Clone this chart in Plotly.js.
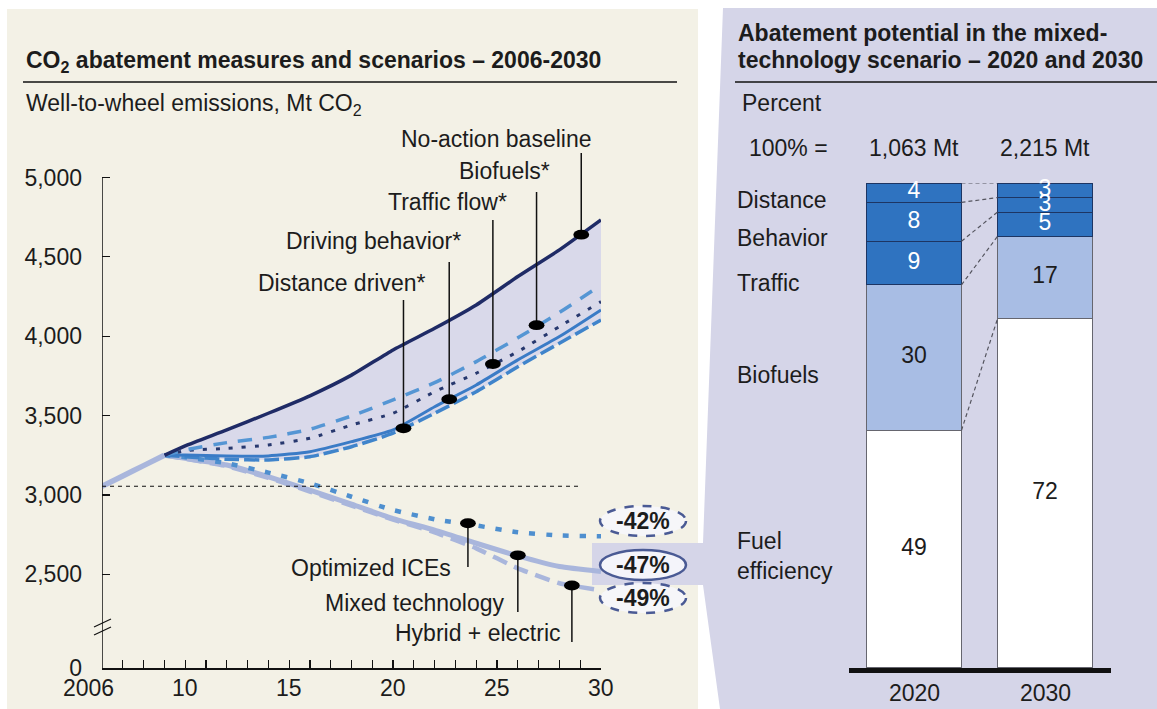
<!DOCTYPE html>
<html>
<head>
<meta charset="utf-8">
<script src="https://cdn.plot.ly/plotly-3.0.1.min.js"></script>
<style>
  html, body { margin: 0; padding: 0; background: #ffffff; }
  #chart { width: 1157px; height: 709px; }
</style>
</head>
<body>
<div id="chart"></div>
<script>
// ---------- Well-to-wheel emissions, Mt CO2 ----------
const histYears  = [2006, 2007, 2008, 2009];
const histValues = [3055, 3120, 3185, 3250];

const scenYears       = [2009, 2010, 2012, 2014, 2016, 2018, 2020, 2022, 2024, 2026, 2028, 2030];
const baseline        = [3250, 3309, 3410, 3515, 3625, 3755, 3914, 4050, 4197, 4376, 4544, 4733];
const biofuels        = [3250, 3284, 3330, 3363, 3414, 3498, 3599, 3708, 3840, 3990, 4150, 4323];
const trafficFlow     = [3250, 3279, 3294, 3315, 3357, 3441, 3515, 3651, 3767, 3903, 4061, 4218];
const drivingBehavior = [3250, 3252, 3246, 3246, 3273, 3336, 3410, 3556, 3693, 3851, 3998, 4166];
const distanceDriven  = [3250, 3241, 3225, 3221, 3241, 3304, 3389, 3515, 3651, 3808, 3956, 4103];
const optimizedICE    = [3250, 3238, 3200, 3141, 3074, 2989, 2905, 2847, 2808, 2765, 2745, 2740];
const mixedTech       = [3250, 3231, 3189, 3115, 3031, 2943, 2851, 2779, 2696, 2616, 2549, 2518];
const hybridElectric  = [3250, 3228, 3182, 3108, 3022, 2933, 2845, 2765, 2664, 2538, 2444, 2400];

// call-out labels and the point each one marks
const calloutNames  = ['No-action baseline', 'Biofuels*', 'Traffic flow*', 'Driving behavior*', 'Distance driven*',
                       'Optimized ICEs', 'Mixed technology', 'Hybrid + electric'];
const calloutYears  = [2029.05, 2026.9, 2024.8, 2022.7, 2020.5, 2023.6, 2026.0, 2028.6];
const calloutValues = [4640, 4070, 3825, 3603, 3420, 2822, 2620, 2430];

// axis ticks
const xTickYears  = [2006, 2010, 2015, 2020, 2025, 2030];
const xTickLabels = ['2006', '10', '15', '20', '25', '30'];
const yTickValues = [2500, 3000, 3500, 4000, 4500, 5000];
const yTickLabels = ['2,500', '3,000', '3,500', '4,000', '4,500', '5,000'];

// ---------- Abatement split in the mixed-technology scenario, percent ----------
const barYears   = ['2020', '2030'];
const barTotals  = ['1,063 Mt', '2,215 Mt'];
const levers     = ['Fuel<br>efficiency', 'Biofuels', 'Traffic', 'Behavior', 'Distance'];
const share2020  = [49, 30, 9, 8, 4];
const share2030  = [72, 17, 5, 3, 3];

// ---------- page geometry ----------
const W = 1157, H = 709;
const FONT = 'Liberation Sans, Arial, Helvetica, sans-serif';
const INK = '#1c1c1c';
const px = x => x / W;
const py = y => 1 - y / H;

// left plot area in pixels; the bottom of the axis is the broken "0"
const LX0 = 102, LX1 = 601, LYTOP = 125, LYBOT = 668;
const V_BOT = 1910, V_TOP = 5331;
const vAt = yPix => V_BOT + (LYBOT - yPix) * (V_TOP - V_BOT) / (LYBOT - LYTOP);

// right plot area
const BAR_W = 0.725;

const traces = [];
const lineTrace = (x, y, color, width, dash) => ({
  type: 'scatter', mode: 'lines', x, y, xaxis: 'x', yaxis: 'y',
  line: { color, width, dash: dash || 'solid', shape: 'spline', smoothing: 0.5 },
  hoverinfo: 'skip', showlegend: false
});

// shaded wedge between the baseline and the lowest measure line
traces.push(lineTrace(scenYears, distanceDriven, 'rgba(0,0,0,0)', 0));
traces.push(Object.assign(lineTrace(scenYears, baseline, 'rgba(0,0,0,0)', 0),
  { fill: 'tonexty', fillcolor: '#d9d9ea' }));

// technology scenarios
traces.push(lineTrace(scenYears, hybridElectric, '#a9b6dc', 4.5, '15px,8px'));
traces.push(lineTrace(scenYears, mixedTech, '#a9b6dc', 5));
traces.push(lineTrace(scenYears, optimizedICE, '#4e8fcf', 4.5, '6px,11px'));

// measures stacked below the baseline
traces.push(lineTrace(scenYears, distanceDriven, '#3f84cb', 3.5, '15px,5px'));
traces.push(lineTrace(scenYears, drivingBehavior, '#3a7bc6', 3));
traces.push(lineTrace(scenYears, trafficFlow, '#27386e', 3, '4px,9px'));
traces.push(lineTrace(scenYears, biofuels, '#5596d4', 3.5, '14px,11px'));
traces.push(lineTrace(scenYears, baseline, '#1f2b66', 3.5));
traces.push(lineTrace(histYears, histValues, '#a9b6dc', 5.5));

// stacked bars
const barColors  = ['#ffffff', '#a8bde4', '#2f73c0', '#2f73c0', '#2f73c0'];
const edgeColors = ['#66666f', '#66666f', '#1d3563', '#1d3563', '#1d3563'];
const textColors = [INK, INK, '#ffffff', '#ffffff', '#ffffff'];
const cum2020 = [], cum2030 = [];
levers.forEach((name, i) => {
  cum2020.push((i ? cum2020[i - 1] : 0) + share2020[i]);
  cum2030.push((i ? cum2030[i - 1] : 0) + share2030[i]);
  traces.push({
    type: 'bar', x: barYears, y: [share2020[i], share2030[i]], xaxis: 'x2', yaxis: 'y2',
    width: BAR_W, marker: { color: barColors[i], line: { color: edgeColors[i], width: 1.2 } },
    hoverinfo: 'skip', showlegend: false
  });
});
levers.forEach((name, i) => {
  traces.push({
    type: 'scatter', mode: 'text', x: barYears, xaxis: 'x2', yaxis: 'y2',
    y: [cum2020[i] - share2020[i] / 2, cum2030[i] - share2030[i] / 2],
    text: [String(share2020[i]), String(share2030[i])],
    textposition: 'middle center', cliponaxis: false,
    textfont: { family: FONT, size: 23, color: textColors[i] },
    hoverinfo: 'skip', showlegend: false
  });
});

// ---------- shapes ----------
const shapes = [];
// panel backgrounds
shapes.push({ type: 'rect', xref: 'paper', yref: 'paper', layer: 'below',
  x0: px(7), x1: px(698), y0: py(709), y1: py(9), fillcolor: '#f3f1e6', line: { width: 0 } });
const funnel = [[723, 8], [1157, 8], [1157, 709], [720, 709], [703, 585], [592, 585], [592, 543], [703, 543]];
shapes.push({ type: 'path', xref: 'paper', yref: 'paper', layer: 'below',
  path: 'M' + funnel.map(p => px(p[0]) + ',' + py(p[1])).join(' L') + ' Z',
  fillcolor: '#d5d5e8', line: { width: 0 } });
// rules under the two headings
shapes.push({ type: 'line', xref: 'paper', yref: 'paper', x0: px(23), x1: px(677), y0: py(82), y1: py(82),
  line: { color: '#111', width: 1.5 } });
shapes.push({ type: 'line', xref: 'paper', yref: 'paper', x0: px(735), x1: px(1157), y0: py(82), y1: py(82),
  line: { color: '#111', width: 1.5 } });
// vertical axis with its break
shapes.push({ type: 'line', xref: 'x', yref: 'y', x0: 2006, x1: 2006, y0: V_BOT, y1: 5000,
  line: { color: '#111', width: 1.5 } });
[[627, 619], [635, 627]].forEach(b => shapes.push({ type: 'line', xref: 'paper', yref: 'paper',
  x0: px(94), x1: px(111), y0: py(b[0]), y1: py(b[1]), line: { color: '#111', width: 1.3 } }));
// 2006 level
shapes.push({ type: 'line', xref: 'x', yref: 'y', x0: histYears[0], x1: 2029.05,
  y0: histValues[0], y1: histValues[0], line: { color: '#111', width: 1.2, dash: '4px,4px' } });

// leaders and dots
const leaderEndPx = [153, 192, 220, 262, 300, 567, 612, 642];
calloutNames.forEach((n, i) => {
  shapes.push({ type: 'line', xref: 'x', yref: 'y', x0: calloutYears[i], x1: calloutYears[i],
    y0: calloutValues[i], y1: vAt(leaderEndPx[i]), line: { color: '#111', width: 1.5 } });
  shapes.push({ type: 'circle', xref: 'x', yref: 'y',
    x0: calloutYears[i] - 0.38, x1: calloutYears[i] + 0.38,
    y0: calloutValues[i] - 31, y1: calloutValues[i] + 31, fillcolor: '#000', line: { width: 0 } });
});

// dashed connectors between matching bar boundaries
cum2020.forEach((c, i) => shapes.push({ type: 'line', xref: 'x2', yref: 'y2',
  x0: BAR_W / 2, x1: 1 - BAR_W / 2, y0: c, y1: cum2030[i],
  line: { color: '#55555f', width: 1.2, dash: '4px,3px' } }));

// 2030 reduction versus the baseline, circled
const endOf = a => a[a.length - 1];
const reductions = [optimizedICE, mixedTech, hybridElectric]
  .map(s => '-' + Math.round((1 - endOf(s) / endOf(baseline)) * 100) + '%');
const ovalY = [521, 565, 598];
const ovalDash = ['dash', 'solid', 'dash'];
ovalY.forEach((y, i) => shapes.push({ type: 'circle', xref: 'paper', yref: 'paper',
  x0: px(600), x1: px(686), y0: py(y + 15), y1: py(y - 15),
  fillcolor: 'rgba(246,246,251,0.92)', line: { color: '#4a5a94', width: 2.5, dash: ovalDash[i] } }));

// ---------- text ----------
const ann = [];
const txt = (x, y, text, opts) => ann.push(Object.assign({
  xref: 'paper', yref: 'paper', x: px(x), y: py(y), text, showarrow: false,
  xanchor: 'left', yanchor: 'middle', align: 'left', font: { family: FONT, size: 23, color: INK }
}, opts || {}));

txt(24, 62, '<b>CO<sub>2</sub> abatement measures and scenarios – 2006-2030</b>');
txt(24, 104, 'Well-to-wheel emissions, Mt CO<sub>2</sub>');
txt(736, 33, '<b>Abatement potential in the mixed-</b>');
txt(736, 60, '<b>technology scenario – 2020 and 2030</b>');
txt(740, 103, 'Percent');
txt(788, 148, '100% =', { xanchor: 'center', align: 'center' });
barTotals.forEach((t, i) => ann.push({ xref: 'x2', yref: 'paper', x: i, y: py(148), text: t,
  showarrow: false, xanchor: 'center', yanchor: 'middle', font: { family: FONT, size: 23, color: INK } }));
// year under each bar
barYears.forEach((t, i) => ann.push({ xref: 'x2', yref: 'paper', x: i, y: py(693), text: t,
  showarrow: false, xanchor: 'center', yanchor: 'middle', font: { family: FONT, size: 23, color: INK } }));
const leverLabelY = [556, 375, 283, 238, 200];
levers.forEach((n, i) => txt(735, leverLabelY[i], n));

// year labels along the emissions axis
xTickYears.forEach((yr, i) => ann.push({ xref: 'x', yref: 'paper', x: yr, y: py(688), text: xTickLabels[i],
  showarrow: false, xanchor: 'center', yanchor: 'middle', xshift: i === 0 ? -14 : 0,
  font: { family: FONT, size: 23, color: INK } }));

const calloutTextPx = [[496, 139], [504, 171], [447, 202], [373, 241], [342, 283],
                       [371, 568], [414, 603], [478, 633]];
calloutNames.forEach((n, i) => txt(calloutTextPx[i][0], calloutTextPx[i][1], n, { xanchor: 'center', align: 'center' }));
reductions.forEach((r, i) => txt(643, ovalY[i], '<b>' + r + '</b>', { xanchor: 'center', align: 'center' }));

const layout = {
  width: W, height: H,
  margin: { l: 0, r: 0, t: 0, b: 0 },
  paper_bgcolor: '#ffffff', plot_bgcolor: 'rgba(0,0,0,0)',
  font: { family: FONT, size: 23, color: INK },
  barmode: 'stack', showlegend: false,
  xaxis: {
    domain: [px(LX0), px(LX1)], range: [2006, 2030], anchor: 'y',
    showgrid: false, zeroline: false, showline: true, linecolor: '#111', linewidth: 1.5,
    tickmode: 'array', tickvals: xTickYears, ticktext: xTickLabels, showticklabels: false,
    ticks: 'inside', ticklen: 8, tickwidth: 1.2, tickcolor: '#111',
    minor: { tickmode: 'linear', tick0: 2006, dtick: 1, ticks: 'inside', ticklen: 8, tickwidth: 1.2, tickcolor: '#111' },
    fixedrange: true
  },
  yaxis: {
    domain: [py(LYBOT), py(LYTOP)], range: [V_BOT, V_TOP], anchor: 'x',
    showgrid: false, zeroline: false, showline: false,
    tickmode: 'array', tickvals: [V_BOT].concat(yTickValues), ticktext: ['0'].concat(yTickLabels),
    ticks: 'inside', ticklen: 8, tickwidth: 1.2, tickcolor: '#111', ticklabelstandoff: 19,
    tickfont: { family: FONT, size: 23, color: INK }, fixedrange: true
  },
  xaxis2: {
    domain: [px(848.5), px(1110.5)], anchor: 'y2', type: 'category', range: [-0.5, 1.5],
    showgrid: false, zeroline: false, showline: true, linecolor: '#111', linewidth: 5,
    ticks: '', showticklabels: false, fixedrange: true
  },
  yaxis2: {
    domain: [py(668), py(183)], range: [0, 100], anchor: 'x2', visible: false, fixedrange: true
  },
  shapes, annotations: ann
};

Plotly.newPlot('chart', traces, layout, { staticPlot: true, displayModeBar: false });
</script>
</body>
</html>
